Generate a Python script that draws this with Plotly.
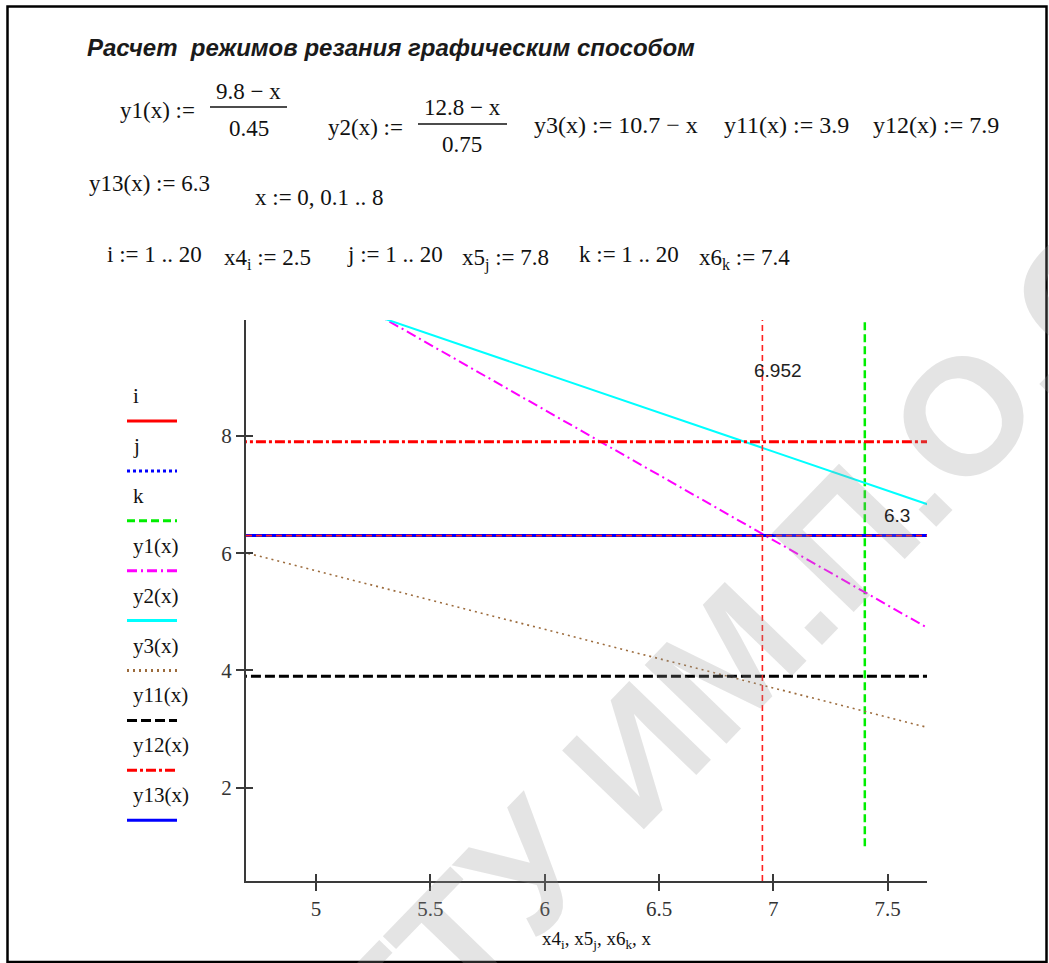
import plotly.graph_objects as go

# ---------------- data ----------------
x_pts = [0, 8]                      # x := 0, 0.1 .. 8  (straight lines -> end points)
y1_vals = [21.778, 4.0]             # y1(x) = (9.8 - x)/0.45
y2_vals = [17.067, 6.4]             # y2(x) = (12.8 - x)/0.75
y3_vals = [10.7, 2.7]               # y3(x) = 10.7 - x
y11_vals = [3.9, 3.9]
y12_vals = [7.9, 7.9]
y13_vals = [6.3, 6.3]
idx = list(range(1, 21))            # i, j, k := 1 .. 20
x4_vals = [2.5] * 20
x5_vals = [7.8] * 20
x6_vals = [7.4] * 20
trace_x = 6.952                     # crosshair readout
trace_y = 6.3
x_ticks = [5, 5.5, 6, 6.5, 7, 7.5]
y_ticks = [2, 4, 6, 8]
x_range = [4.6934, 7.672]
y_range = [0.405, 9.98]
legend_names = ["i", "j", "k", "y1(x)", "y2(x)", "y3(x)", "y11(x)", "y12(x)", "y13(x)"]

# ---------------- geometry helpers ----------------
W, H = 1049, 963
L, R, T, B = 246, 122, 320, 82
PW = W - L - R
PH = H - T - B


def px(xp):
    return (xp - L) / PW


def py(yp):
    return (H - B - yp) / PH


SERIF = "Liberation Serif, Times New Roman, serif"
SANS = "Liberation Sans, Arial, sans-serif"

styles = [
    ("#ff0000", "solid", 3),
    ("#0000ff", "3px,3px", 3),
    ("#00ee00", "8px,4px", 2.5),
    ("#ff00ff", "10px,4px,2px,4px", 2),
    ("#00ffff", "solid", 2),
    ("#9c6b3c", "2px,4px", 1.6),
    ("#000000", "10px,4px", 3),
    ("#ff0000", "10px,3px,3px,3px", 3),
    ("#0000ff", "solid", 3),
]
series_x = [x4_vals, x5_vals, x6_vals, x_pts, x_pts, x_pts, x_pts, x_pts, x_pts]
series_y = [idx, idx, idx, y1_vals, y2_vals, y3_vals, y11_vals, y12_vals, y13_vals]

fig = go.Figure()
for name, xs, ys, (c, d, w) in zip(legend_names, series_x, series_y, styles):
    fig.add_trace(go.Scatter(x=xs, y=ys, mode="lines", name=name,
                             line=dict(color=c, dash=d, width=w),
                             showlegend=False))

# invisible trace for overlay axes (inner half of crossing ticks)
fig.add_trace(go.Scatter(x=[None], y=[None], xaxis="x2", yaxis="y2",
                         showlegend=False, hoverinfo="skip"))

axis_common = dict(showgrid=False, zeroline=False)
fig.update_layout(
    width=W, height=H,
    margin=dict(l=L, r=R, t=T, b=B),
    paper_bgcolor="white", plot_bgcolor="white",
    xaxis=dict(range=x_range, tickvals=x_ticks, ticktext=[str(v) for v in x_ticks],
               showline=True, linecolor="#3a3a3a", linewidth=2,
               ticks="outside", ticklen=8, tickwidth=2, tickcolor="#3a3a3a",
               tickfont=dict(family=SERIF, size=21, color="#333"), **axis_common),
    yaxis=dict(range=y_range, tickvals=y_ticks, ticktext=[str(v) for v in y_ticks],
               showline=True, linecolor="#3a3a3a", linewidth=2,
               ticks="outside", ticklen=8, tickwidth=2, tickcolor="#3a3a3a",
               tickfont=dict(family=SERIF, size=21, color="#333"), **axis_common),
    xaxis2=dict(range=x_range, overlaying="x", tickvals=x_ticks, showticklabels=False,
                ticks="inside", ticklen=7, tickwidth=2, tickcolor="#3a3a3a",
                showline=False, **axis_common),
    yaxis2=dict(range=y_range, overlaying="y", tickvals=y_ticks, showticklabels=False,
                ticks="inside", ticklen=7, tickwidth=2, tickcolor="#3a3a3a",
                showline=False, **axis_common),
)

shapes = []
# crosshair
shapes.append(dict(type="line", xref="x", yref="paper", x0=trace_x, x1=trace_x, y0=0, y1=1,
                   line=dict(color="#ff2020", width=1.6, dash="6px,4px")))
shapes.append(dict(type="line", xref="paper", yref="y", x0=0, x1=1, y0=trace_y, y1=trace_y,
                   line=dict(color="#ff2020", width=1.6, dash="6px,4px")))
# page frame
shapes.append(dict(type="rect", xref="paper", yref="paper",
                   x0=px(7.5), x1=px(1046.5), y0=py(962), y1=py(6.5),
                   line=dict(color="black", width=2.5), layer="below"))
# fraction bars
shapes.append(dict(type="line", xref="paper", yref="paper", x0=px(210), x1=px(287),
                   y0=py(107), y1=py(107), line=dict(color="#111", width=1.5)))
shapes.append(dict(type="line", xref="paper", yref="paper", x0=px(418), x1=px(507),
                   y0=py(124), y1=py(124), line=dict(color="#111", width=1.5)))

annotations = []


def ann(text, x, y, size=23, family=SERIF, xanchor="left", color="#111", **kw):
    annotations.append(dict(text=text, x=px(x), y=py(y), xref="paper", yref="paper",
                            xanchor=xanchor, yanchor="middle", showarrow=False,
                            font=dict(family=family, size=size, color=color), **kw))


# watermark
ann("<b>ГГТУ ИМ.П.О.СУХОГО</b>", 900, 482, size=165, family=SANS, xanchor="center",
    color="rgba(150,150,150,0.26)", textangle=-46)

# legend (Mathcad style: label above line sample)
for n, (name, (c, d, w)) in enumerate(zip(legend_names, styles)):
    ly = 421 + 49.9 * n
    ann(name, 131, ly - 25, size=21)
    shapes.append(dict(type="line", xref="paper", yref="paper", x0=px(127), x1=px(177),
                       y0=py(ly), y1=py(ly), line=dict(color=c, width=3, dash=d)))

# title & formulas
ann("<b><i>Расчет\u00a0 режимов резания графическим способом</i></b>", 85, 47,
    size=24, family=SANS, color="#1a1a1a")
ann("y1(x) :=", 118, 110)
ann("9.8 − x", 248, 92, xanchor="center")
ann("0.45", 249, 129, xanchor="center")
ann("y2(x) :=", 326, 127)
ann("12.8 − x", 462, 108, xanchor="center")
ann("0.75", 462, 145, xanchor="center")
ann("y3(x) := 10.7 − x", 532, 125, size=24)
ann("y11(x) := 3.9", 722, 125, size=24)
ann("y12(x) := 7.9", 871, 125, size=24)
ann("y13(x) := 6.3", 87, 183)
ann("x := 0, 0.1 .. 8", 253, 198)
ann("i := 1 .. 20", 105, 255)
ann("x4<sub>i</sub> := 2.5", 222, 259)
ann("j := 1 .. 20", 345, 255)
ann("x5<sub>j</sub> := 7.8", 460, 259)
ann("k := 1 .. 20", 577, 255)
ann("x6<sub>k</sub> := 7.4", 697, 259)

# crosshair readouts
ann(f"{trace_x:.3f}", 778, 370, size=19, family=SANS, xanchor="center", color="#222")
ann(f"{trace_y:g}", 897, 515, size=19, family=SANS, xanchor="center", color="#222")

# axis title
ann("x4<sub>i</sub>, x5<sub>j</sub>, x6<sub>k</sub>, x", 597, 940, size=19, xanchor="center")

fig.update_layout(shapes=shapes, annotations=annotations)
fig.write_html("out.html", config={"displayModeBar": False},
               post_script="document.body.style.margin='0';document.body.style.overflow='hidden';")
